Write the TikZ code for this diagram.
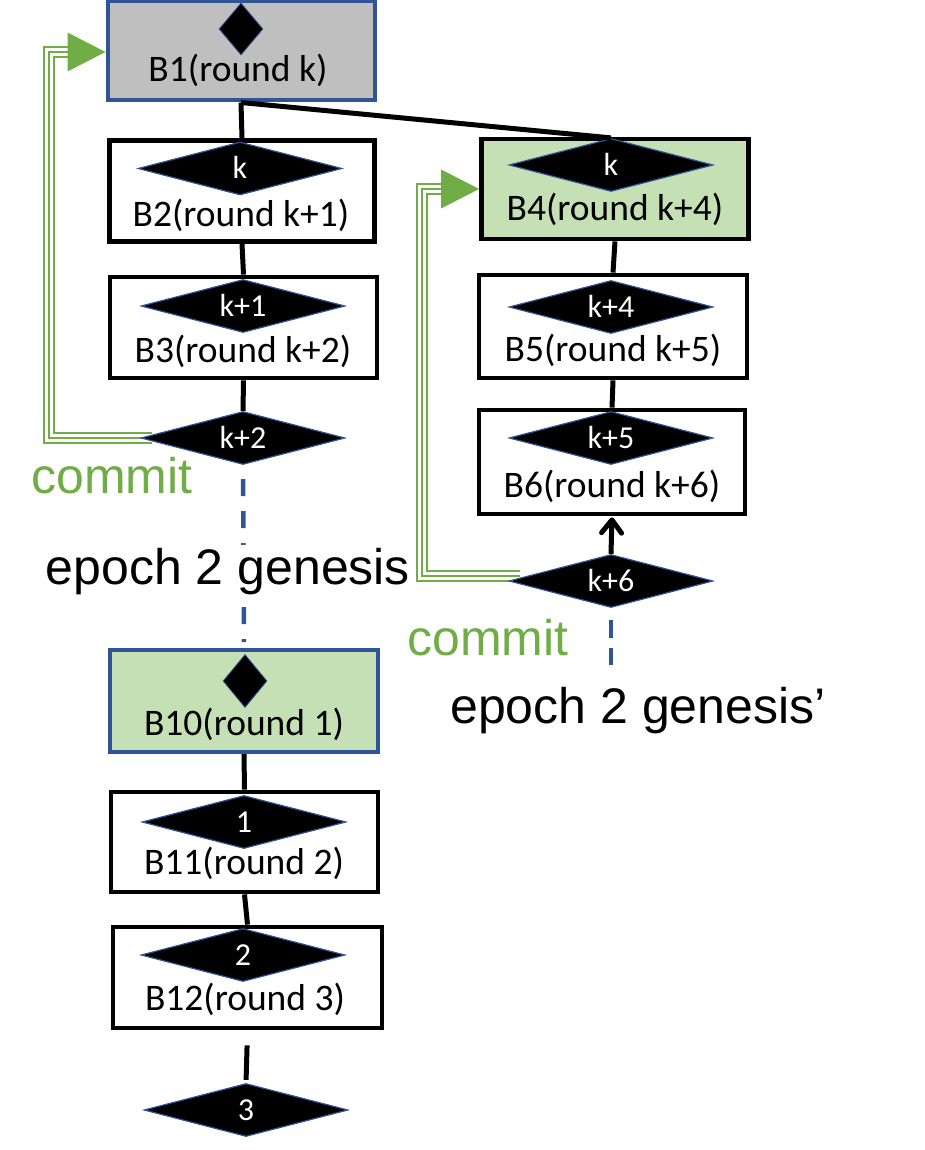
\documentclass[tikz,border=0pt]{standalone}
\usepackage{fontspec}
\setmainfont{Carlito}
\newfontfamily\arialf{Liberation Sans}
\usetikzlibrary{shapes.geometric,arrows.meta}
\pgfdeclarelayer{background}
\pgfsetlayers{background,main}
\definecolor{bordblue}{HTML}{2F5597}
\definecolor{cgreen}{HTML}{70AD47}
\definecolor{boxgreen}{HTML}{C5E0B4}
\definecolor{boxgray}{HTML}{BFBFBF}
\tikzset{
  blk/.style={rectangle, draw=black, line width=4.8pt, minimum width=266pt, minimum height=101pt, inner sep=0pt, fill=white},
  gen/.style={blk, draw=bordblue, line width=4pt},
  dia/.style={diamond, aspect=3.8, fill=black, draw=bordblue, line width=1.2pt, minimum width=204pt, minimum height=53pt, inner sep=0pt, text=white, font=\fontsize{32pt}{32pt}\selectfont, text height=21pt, text depth=0pt},
  sdia/.style={diamond, fill=black, draw=bordblue, line width=0.8pt, minimum width=44pt, minimum height=52pt, inner sep=0pt},
  lbl/.style={anchor=base, font=\fontsize{37.5pt}{40pt}\selectfont, inner sep=0pt},
  bigtext/.style={anchor=base, font=\arialf\fontsize{50pt}{55pt}\selectfont, inner sep=0pt},
  conn/.style={line width=5pt, draw=black},
  dashblue/.style={line width=4.5pt, draw=bordblue},
  gline/.style={draw=cgreen, line width=2.2pt, preaction={draw=cgreen, line width=12.5pt}, preaction={draw=white, line width=8.2pt}},
}
\begin{document}
\begin{tikzpicture}[x=1pt,y=-1pt]
\useasboundingbox (0,0) rectangle (924,1150);

% boxes
\node[gen, fill=boxgray, minimum width=267pt, minimum height=99pt] (B1) at (241,51) {};
\node[blk, minimum width=265pt] (B2) at (242,191) {};
\node[blk, minimum width=267pt] (B3) at (243.5,327.5) {};
\node[blk, fill=boxgreen, minimum width=267pt, minimum height=100pt] (B4) at (615,189) {};
\node[blk, minimum width=268pt, minimum height=103pt] (B5) at (613,326.5) {};
\node[blk, minimum width=266pt, minimum height=104pt] (B6) at (612,462) {};
\node[gen, fill=boxgreen, minimum width=268pt, minimum height=102pt] (B10) at (244,701) {};
\node[blk, minimum width=267pt, minimum height=100pt] (B11) at (244.5,842) {};
\node[blk, minimum width=269pt] (B12) at (247.5,977.5) {};

% diamonds
\node[sdia] (dB1) at (241,29) {};
\node[dia] (dB2) at (240,168.5) {k};
\node[dia] (dB3) at (243,306) {k+1};
\node[dia] (dK2) at (243,438) {k+2};
\node[dia] (dB4) at (611,165) {k};
\node[dia] (dB5) at (611,307) {k+4};
\node[dia] (dB6) at (611,438) {k+5};
\node[dia] (dK6) at (611,581) {k+6};
\node[sdia, minimum height=53pt] (dB10) at (245,681) {};
\node[dia] (dB11) at (244,822) {1};
\node[dia] (dB12) at (243,955) {2};
\node[dia] (dE3) at (246,1110) {3};

% box labels
\node[lbl] (t1) at (238,82) {B1(round k)};
\node[lbl] (t2) at (241,226) {B2(round k+1)};
\node[lbl] (t3) at (243,362) {B3(round k+2)};
\node[lbl] (t4) at (615,221) {B4(round k+4)};
\node[lbl] (t5) at (613,361) {B5(round k+5)};
\node[lbl] (t6) at (612,497) {B6(round k+6)};
\node[lbl] (t10) at (244,735) {B10(round 1)};
\node[lbl] (t11) at (244,874) {B11(round 2)};
\node[lbl] (t12) at (245,1010) {B12(round 3)};

% connectors
\draw[conn] (B1.south) -- (B2.north);
\draw[conn] (B1.south) -- (dB4.north);
\draw[conn] (B2.south) -- (B3.north);
\draw[conn] (B3.south) -- (dK2.north);
\draw[conn] (B4.south) -- (B5.north);
\draw[conn] (B5.south) -- (B6.north);
\draw[conn, -{Straight Barb[length=13pt,width=20pt,round]}, shorten >=1pt] (dK6.north) -- (B6.south);
\draw[conn] (B10.south) -- (B11.north);
\draw[conn] (B11.south) -- (B12.north);
\draw[conn, shorten <=15pt, shorten >=3pt] (B12.south) -- (dE3.north);

% dashed genesis links
\draw[dashblue, dash pattern=on 17pt off 15pt, shorten <=14pt, shorten >=6pt] (dK2.south) -- (B10.north);
\coordinate (gEnd) at (611,665);
\draw[dashblue, dash pattern=on 18pt off 10pt, shorten <=12pt] (dK6.south) -- (gEnd);

% commit arrows
\coordinate (cL) at (49,52);
\coordinate (cR) at (422,189);
\begin{pgfonlayer}{background}
\draw[gline] ([xshift=12pt]dK2.west) -| (cL) -- ([xshift=-37pt,yshift=-1pt]B1.west);
\draw[gline] ([xshift=12pt,yshift=5pt]dK6.west) -| (cR) -- ([xshift=-37pt]B4.west);
\end{pgfonlayer}
\fill[cgreen] ([yshift=-1pt]B1.west) -- ++(-38,-19.5) -- ++(0,39) -- cycle;
\fill[cgreen] (B4.west) -- ++(-38,-19.5) -- ++(0,39) -- cycle;

% texts
\node[bigtext, text=cgreen] (cm1) at (112,493) {commit};
\node[bigtext, fill=white, inner ysep=3pt] (eg1) at (228,584) {epoch 2 genesis};
\node[bigtext, text=cgreen] (cm2) at (488,655) {commit};
\node[bigtext] (eg2) at (638,723) {epoch 2 genesis’};
\end{tikzpicture}
\end{document}
